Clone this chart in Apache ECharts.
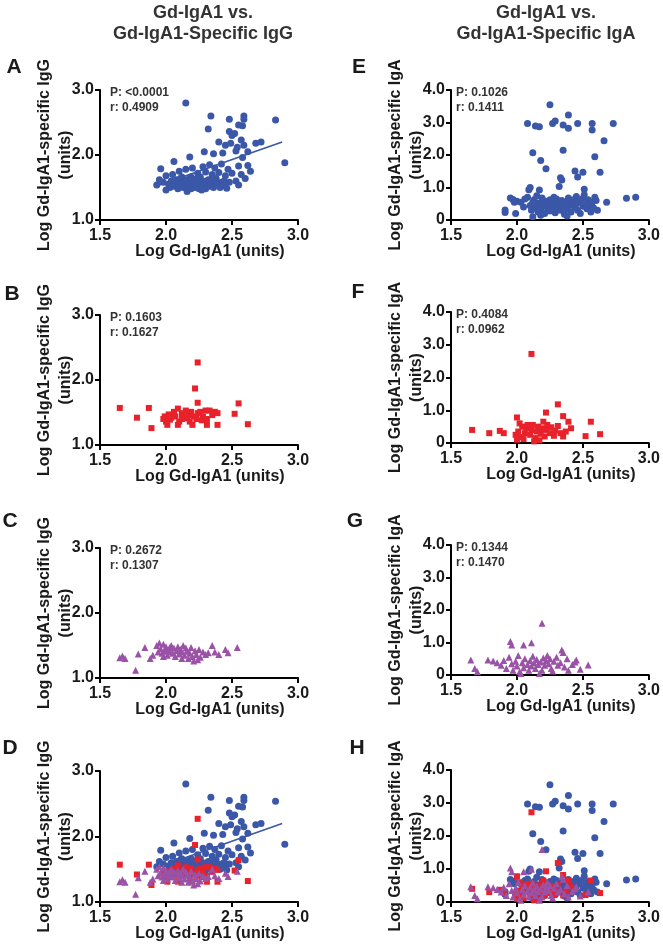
<!DOCTYPE html>
<html><head><meta charset="utf-8">
<script src="https://cdn.jsdelivr.net/npm/echarts@6/dist/echarts.min.js"></script>
<style>html,body{margin:0;padding:0;background:#fff}#c{width:663px;height:947px}</style>
</head><body><div id="c"></div>
<script>
// ---- data ----
const xTickLabels = ['1.5','2.0','2.5','3.0'];
const yTicksIgG = ['1.0','2.0','3.0'];
const yTicksIgA = ['0','1.0','2.0','3.0','4.0'];
const colTitles = ['Gd-IgA1 vs.\nGd-IgA1-Specific IgG','Gd-IgA1 vs.\nGd-IgA1-Specific IgA'];
const panelLetters = ['A','B','C','D','E','F','G','H'];
const statsText = [['P: <0.0001','r: 0.4909'],['P: 0.1603','r: 0.1627'],['P: 0.2672','r: 0.1307'],null,
                   ['P: 0.1026','r: 0.1411'],['P: 0.4084','r: 0.0962'],['P: 0.1344','r: 0.1470'],null];

const blueIgG = [[2.15,2.80],[2.34,2.60],[2.48,2.55],[2.59,2.60],[2.59,2.55],[2.83,2.54],[2.58,2.45],[2.32,2.40],[2.55,2.46],[2.48,2.36],[2.52,2.33],[2.50,2.30],[2.40,2.20],[2.45,2.15],[2.49,2.18],[2.57,2.23],[2.59,2.15],[2.68,2.18],[2.72,2.20],[2.54,2.12],[2.29,2.05],[2.36,2.02],[2.43,2.03],[2.53,2.06],[2.62,2.05],[2.58,1.96],[2.18,1.97],[2.90,1.88],[2.06,1.90],[1.96,1.79],
[2.15,1.78],[2.20,1.80],[2.28,1.82],[2.33,1.85],[2.37,1.80],[2.42,1.86],[2.47,1.78],[2.55,1.83],[2.62,1.84],[2.64,1.75],[2.24,1.72],[2.30,1.74],[2.35,1.70],[2.40,1.73],[2.45,1.68],[2.50,1.72],[2.57,1.70],[2.60,1.64],[2.10,1.75],[2.05,1.70],[2.00,1.68],[2.12,1.66],[2.18,1.64],[2.26,1.66],[2.32,1.62],[2.38,1.64],[2.44,1.60],[2.48,1.58],[2.53,1.60],[2.55,1.54],
[1.93,1.54],[1.95,1.62],[1.98,1.58],[2.00,1.46],[2.02,1.55],[2.04,1.60],[2.06,1.52],[2.08,1.62],[2.09,1.48],[2.10,1.56],[2.12,1.60],[2.13,1.50],[2.14,1.55],[2.15,1.62],[2.16,1.44],[2.17,1.52],[2.18,1.58],[2.19,1.48],[2.20,1.60],[2.21,1.54],[2.22,1.50],[2.23,1.63],[2.24,1.56],[2.25,1.48],[2.26,1.58],[2.27,1.52],[2.28,1.60],[2.29,1.55],[2.30,1.48],[2.31,1.58],[2.33,1.52],[2.34,1.57],[2.36,1.50],[2.37,1.60],[2.39,1.55],[2.41,1.50],[2.42,1.58],[2.44,1.53],[2.46,1.49],[2.12,1.53],[2.07,1.58],[2.03,1.50],[2.11,1.64],[2.19,1.66],[2.27,1.46],[2.35,1.65],[2.05,1.56]];
const fitIgG = [[1.94,1.53],[2.88,2.20]];
const redIgG = [[2.24,2.27],[2.22,1.87],[2.24,1.65],[1.65,1.57],[1.87,1.57],[1.78,1.42],[1.89,1.26],[2.55,1.64],[2.52,1.48],[2.62,1.32],[2.39,1.31],[2.31,1.31],
[1.99,1.44],[2.00,1.36],[2.02,1.47],[2.03,1.39],[2.06,1.51],[2.07,1.44],[2.09,1.56],[2.10,1.36],[2.12,1.49],[2.14,1.41],[2.15,1.53],[2.17,1.46],[2.18,1.36],[2.19,1.51],[2.21,1.44],[2.24,1.49],[2.26,1.51],[2.28,1.44],[2.30,1.53],[2.31,1.40],[2.33,1.53],[2.35,1.46],[2.37,1.51],[2.39,1.49],[2.01,1.31],[2.09,1.31],[2.20,1.31],[2.04,1.42],[2.12,1.40],[2.23,1.40],[2.27,1.38],[1.98,1.40],[2.16,1.44],[2.06,1.47]];
const purpleIgG = [[1.65,1.31],[1.67,1.34],[1.69,1.30],[1.77,1.12],[1.79,1.37],[1.84,1.47],[1.88,1.30],[1.90,1.35],[1.93,1.50],[1.95,1.54],[1.96,1.45],[1.97,1.38],[1.98,1.52],[1.99,1.42],[2.00,1.48],[2.01,1.35],[2.02,1.44],[2.03,1.40],[2.04,1.50],[2.05,1.38],[2.06,1.46],[2.07,1.33],[2.08,1.42],[2.09,1.48],[2.10,1.37],[2.11,1.44],[2.12,1.40],[2.13,1.50],[2.14,1.35],[2.15,1.46],[2.16,1.41],[2.17,1.30],[2.18,1.38],[2.19,1.47],[2.20,1.33],[2.21,1.26],[2.22,1.42],[2.23,1.36],[2.24,1.28],[2.25,1.44],[2.26,1.32],[2.28,1.40],[2.30,1.36],[2.32,1.39],[2.35,1.50],[2.37,1.40],[2.40,1.36],[2.45,1.44],[2.47,1.39],[2.54,1.47],[1.94,1.40],[2.03,1.47],[2.12,1.30],[2.00,1.41],[1.98,1.33]];

const blueIgA = [[2.25,3.55],[2.08,2.97],[2.14,2.89],[2.17,2.87],[2.27,2.97],[2.29,3.05],[2.35,2.92],[2.39,3.23],[2.39,2.82],[2.46,2.97],[2.57,2.97],[2.57,2.77],[2.73,2.97],[2.66,2.44],[2.12,2.07],[2.35,2.15],[2.59,1.95],[2.18,1.83],[2.22,1.58],[2.44,1.51],[2.50,1.47],[2.46,1.32],[2.63,1.47],[2.33,1.30],[2.34,1.23],[2.32,1.03],[2.10,1.00],[2.09,0.93],[2.17,0.92],[2.51,0.95],[2.83,0.67],[2.90,0.70],[2.68,0.55],
[1.91,0.31],[1.91,0.23],[1.99,0.20],[1.95,0.68],[1.97,0.63],[1.98,0.55],[2.00,0.58],[2.03,0.55],[2.06,0.65],[2.08,0.70],[2.10,0.45],[2.11,0.30],[2.12,0.10],[2.13,0.62],[2.14,0.40],[2.15,0.75],[2.16,0.25],[2.17,0.52],[2.18,0.35],[2.19,0.68],[2.20,0.45],[2.21,0.20],[2.22,0.58],[2.23,0.38],[2.24,0.50],[2.25,0.62],[2.26,0.30],[2.27,0.45],[2.28,0.55],[2.29,0.22],[2.30,0.65],[2.31,0.40],[2.32,0.50],[2.33,0.30],[2.34,0.60],[2.35,0.42],[2.36,0.18],[2.37,0.55],[2.38,0.35],[2.39,0.68],[2.40,0.45],[2.41,0.25],[2.42,0.58],[2.43,0.62],[2.44,0.40],[2.45,0.72],[2.46,0.30],[2.47,0.55],[2.48,0.20],[2.49,0.65],[2.50,0.42],[2.51,0.78],[2.52,0.50],[2.53,0.35],[2.54,0.62],[2.55,0.48],[2.56,0.25],[2.57,0.55],[2.58,0.38],[2.59,0.70],[2.60,0.60],[2.61,0.30],[2.15,0.48],[2.20,0.60],[2.25,0.28],[2.30,0.35],[2.12,0.55],[2.18,0.15],[2.28,0.70],[2.38,0.12],[2.05,0.40],[2.45,0.50]];
const redIgA = [[2.11,2.72],[2.31,1.18],[2.22,0.93],[2.35,0.82],[2.39,0.65],[2.56,0.65],[1.66,0.40],[1.79,0.30],[1.87,0.37],[1.90,0.30],[2.00,0.78],[2.52,0.21],[2.63,0.27],[2.41,0.45],
[1.99,0.25],[2.00,0.10],[2.01,0.35],[2.02,0.60],[2.03,0.18],[2.04,0.50],[2.06,0.30],[2.07,0.45],[2.08,0.55],[2.10,0.25],[2.11,0.40],[2.12,0.55],[2.14,0.15],[2.15,0.35],[2.16,0.50],[2.17,0.08],[2.18,0.28],[2.19,0.45],[2.20,0.65],[2.21,0.20],[2.22,0.40],[2.23,0.55],[2.25,0.30],[2.26,0.48],[2.28,0.22],[2.29,0.38],[2.31,0.52],[2.33,0.30],[2.35,0.20],[2.37,0.35],[2.13,0.05],[2.05,0.12]];
const purpleIgA = [[2.19,1.59],[1.95,1.03],[1.96,0.92],[2.05,0.92],[2.11,0.99],[2.34,0.77],[2.35,0.69],[1.65,0.46],[1.68,0.20],[1.70,0.10],[1.78,0.46],[1.82,0.43],[1.85,0.38],[2.45,0.46],[2.48,0.18],[2.54,0.31],[2.39,0.15],
[1.88,0.30],[1.90,0.45],[1.92,0.20],[1.94,0.55],[1.96,0.35],[1.97,0.15],[1.99,0.42],[2.00,0.28],[2.01,0.60],[2.02,0.10],[2.04,0.38],[2.05,0.22],[2.06,0.50],[2.08,0.32],[2.09,0.15],[2.10,0.45],[2.11,0.28],[2.12,0.58],[2.13,0.38],[2.14,0.20],[2.15,0.48],[2.16,0.32],[2.17,0.05],[2.18,0.40],[2.20,0.52],[2.21,0.30],[2.22,0.45],[2.23,0.60],[2.24,0.35],[2.25,0.50],[2.26,0.20],[2.28,0.42],[2.30,0.55],[2.31,0.30],[2.33,0.38],[2.36,0.25],[2.38,0.50],[2.42,0.32],[2.44,0.40],[2.03,0.05],[2.19,0.15],[2.27,0.12]];

// ---- styles / layout ----
const FONT = 'Liberation Sans, Arial, sans-serif';
const BLUE = '#3b57a8', RED = '#e8212a', PURPLE = '#9a52a6';
const grids = [
  {left:100, top:90,  width:198, height:130},
  {left:100, top:315, width:198, height:130},
  {left:100, top:548, width:198, height:130},
  {left:100, top:771, width:198, height:131},
  {left:451, top:90,  width:198, height:130},
  {left:451, top:312, width:198, height:131},
  {left:451, top:545, width:198, height:130},
  {left:451, top:770, width:198, height:132}
];
const letterPos = [[14,67],[12,294],[10,521],[10,748],[359,67],[358,292],[355,521],[357,748]];

const axisLine = {show:true, onZero:false, lineStyle:{color:'#000', width:2}};
const axisTick = {show:true, inside:false, length:5, lineStyle:{color:'#000', width:2}};
const labelStyle = {color:'#1a1a1a', fontFamily:FONT, fontWeight:'bold', fontSize:16};

const xAxis = [], yAxis = [], series = [], graphic = [];
grids.forEach((g, i) => {
  const igA = i >= 4;
  xAxis.push({
    gridIndex:i, type:'value', min:1.5, max:3.0, interval:0.5,
    axisLine, axisTick, splitLine:{show:false},
    axisLabel:Object.assign({margin:8, formatter:(v)=>xTickLabels[Math.round((v-1.5)/0.5)]}, labelStyle),
    name:'Log Gd-IgA1 (units)', nameLocation:'middle', nameGap:24, nameMoveOverlap:false,
    nameTextStyle:Object.assign({padding:[0,0,0,22]}, labelStyle)
  });
  yAxis.push({
    gridIndex:i, type:'value', min: igA?0:1, max: igA?4:3, interval:1,
    axisLine, axisTick, splitLine:{show:false},
    axisLabel:Object.assign({margin:6, formatter:(v)=> igA ? yTicksIgA[Math.round(v)] : yTicksIgG[Math.round(v-1)]}, labelStyle),
    name: igA ? 'Log Gd-IgA1-specific IgA\n(units)' : 'Log Gd-IgA1-specific IgG\n(units)',
    nameLocation:'middle', nameGap:24, nameMoveOverlap:false,
    nameTextStyle:Object.assign({lineHeight:21}, labelStyle)
  });
  const row = i % 4;
  const blue = igA ? blueIgA : blueIgG, red = igA ? redIgA : redIgG, purple = igA ? purpleIgA : purpleIgG;
  const sets = [];
  if (row === 0 || row === 3) sets.push(['circle', 7, BLUE, blue]);
  if (row === 1 || row === 3) sets.push(['rect', 6, RED, red]);
  if (row === 2 || row === 3) sets.push(['triangle', 7, PURPLE, purple]);
  if (!igA && (row === 0 || row === 3)) {
    series.push({type:'line', xAxisIndex:i, yAxisIndex:i, data:fitIgG, symbol:'none', silent:true,
      lineStyle:{color:BLUE, width:1.6}, z:1});
  }
  sets.forEach(([sym, size, col, data]) => {
    series.push({type:'scatter', xAxisIndex:i, yAxisIndex:i, symbol:sym, symbolSize:size,
      itemStyle:{color:col, opacity:1}, data, silent:true, z:2});
  });
  graphic.push({type:'text', x:letterPos[i][0], y:letterPos[i][1],
    style:{text:panelLetters[i], font:'bold 21px '+FONT, fill:'#1a1a1a', textAlign:'center', textVerticalAlign:'middle'}});
  if (statsText[i]) {
    graphic.push({type:'text', x:g.left+(igA?5:10), y:g.top-5,
      style:{text:statsText[i].join('\n'), font:'bold 12px '+FONT, fill:'#333', lineHeight:15}});
  }
});
graphic.push({type:'text', x:203, y:3, style:{text:colTitles[0], font:'bold 18px '+FONT, fill:'#333', textAlign:'center', lineHeight:21}});
graphic.push({type:'text', x:546, y:3, style:{text:colTitles[1], font:'bold 18px '+FONT, fill:'#333', textAlign:'center', lineHeight:21}});

const chart = echarts.init(document.getElementById('c'), null, {renderer:'canvas'});
chart.setOption({animation:false, backgroundColor:'#fff', grid:grids.map(g=>Object.assign({containLabel:false}, g)),
  xAxis, yAxis, series, graphic});
</script></body></html>
